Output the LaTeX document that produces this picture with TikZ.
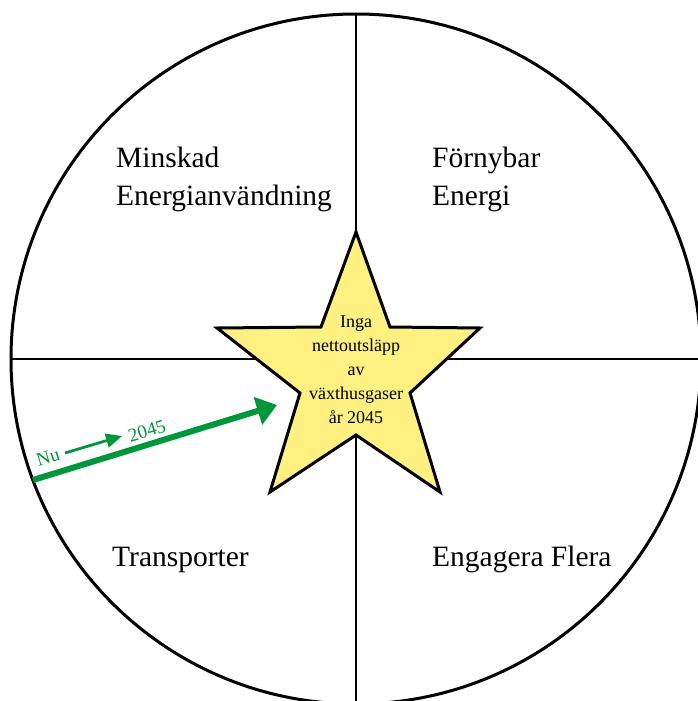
\documentclass[tikz,border=0pt]{standalone}
\usepackage{fontspec}
\setmainfont{Liberation Serif}
\usetikzlibrary{arrows.meta}
\definecolor{stargold}{RGB}{255,240,130}
\definecolor{leafgreen}{RGB}{0,150,60}
\tikzset{
  heading/.style={anchor=base west, inner sep=0pt, font=\fontsize{29.5}{34}\selectfont},
  ring/.style={draw=black, line width=3pt},
  divider/.style={draw=black, line width=2.4pt},
  startext/.style={align=center, inner sep=0pt, font=\fontsize{18}{24}\selectfont},
  greentext/.style={text=leafgreen, inner sep=0pt, rotate=17, font=\fontsize{19}{22}\selectfont},
  bigarrow/.style={draw=leafgreen, line width=6pt, -{Triangle[length=20pt,width=28pt]}},
  smallarrow/.style={draw=leafgreen, line width=2.8pt, -{Triangle[length=16pt,width=14pt]}}
}
\begin{document}
\begin{tikzpicture}[x=1pt,y=-1pt]
\useasboundingbox (0,0) rectangle (698,701);
\clip (0,0) rectangle (698,701);
% coordinates
\coordinate (c) at (356,359);
\coordinate (vtop) at (356,14);
\coordinate (vbot) at (356,710);
\coordinate (hleft) at (11,359);
\coordinate (hright) at (710,359);
% circle and dividers
\draw[divider] (vtop) -- (vbot);
\draw[divider] (hleft) -- (hright);
\draw[ring] (c) circle[radius=345];
% star
\draw[fill=stargold, line width=3pt, line join=miter]
  (356,232) -- (390,327) -- (480,328) -- (410,393) -- (440,492) --
  (356,435) -- (270,492) -- (300,393) -- (217,328) -- (321,327) -- cycle;
\node[startext] (goal) at (356,370) {Inga\\nettoutsläpp\\av\\växthusgaser\\år 2045};
% headings
\node[heading] (minskadA) at (116,167) {Minskad};
\node[heading] (minskadB) at (116,205) {Energianvändning};
\node[heading] (fornybarA) at (432,167) {Förnybar};
\node[heading] (fornybarB) at (432,205) {Energi};
\node[heading] (transp) at (112,566) {Transporter};
\node[heading] (engagera) at (432,566) {Engagera Flera};
% green arrows
\coordinate (bigstart) at (33,480);
\coordinate (bigend) at (277,405);
\draw[bigarrow] (bigstart) -- (bigend);
\coordinate (smallstart) at (65,453);
\coordinate (smallend) at (122,436);
\draw[smallarrow] (smallstart) -- (smallend);
\node[greentext] (nu) at (48,457) {Nu};
\node[greentext] (year) at (147,431) {2045};
\end{tikzpicture}
\end{document}
